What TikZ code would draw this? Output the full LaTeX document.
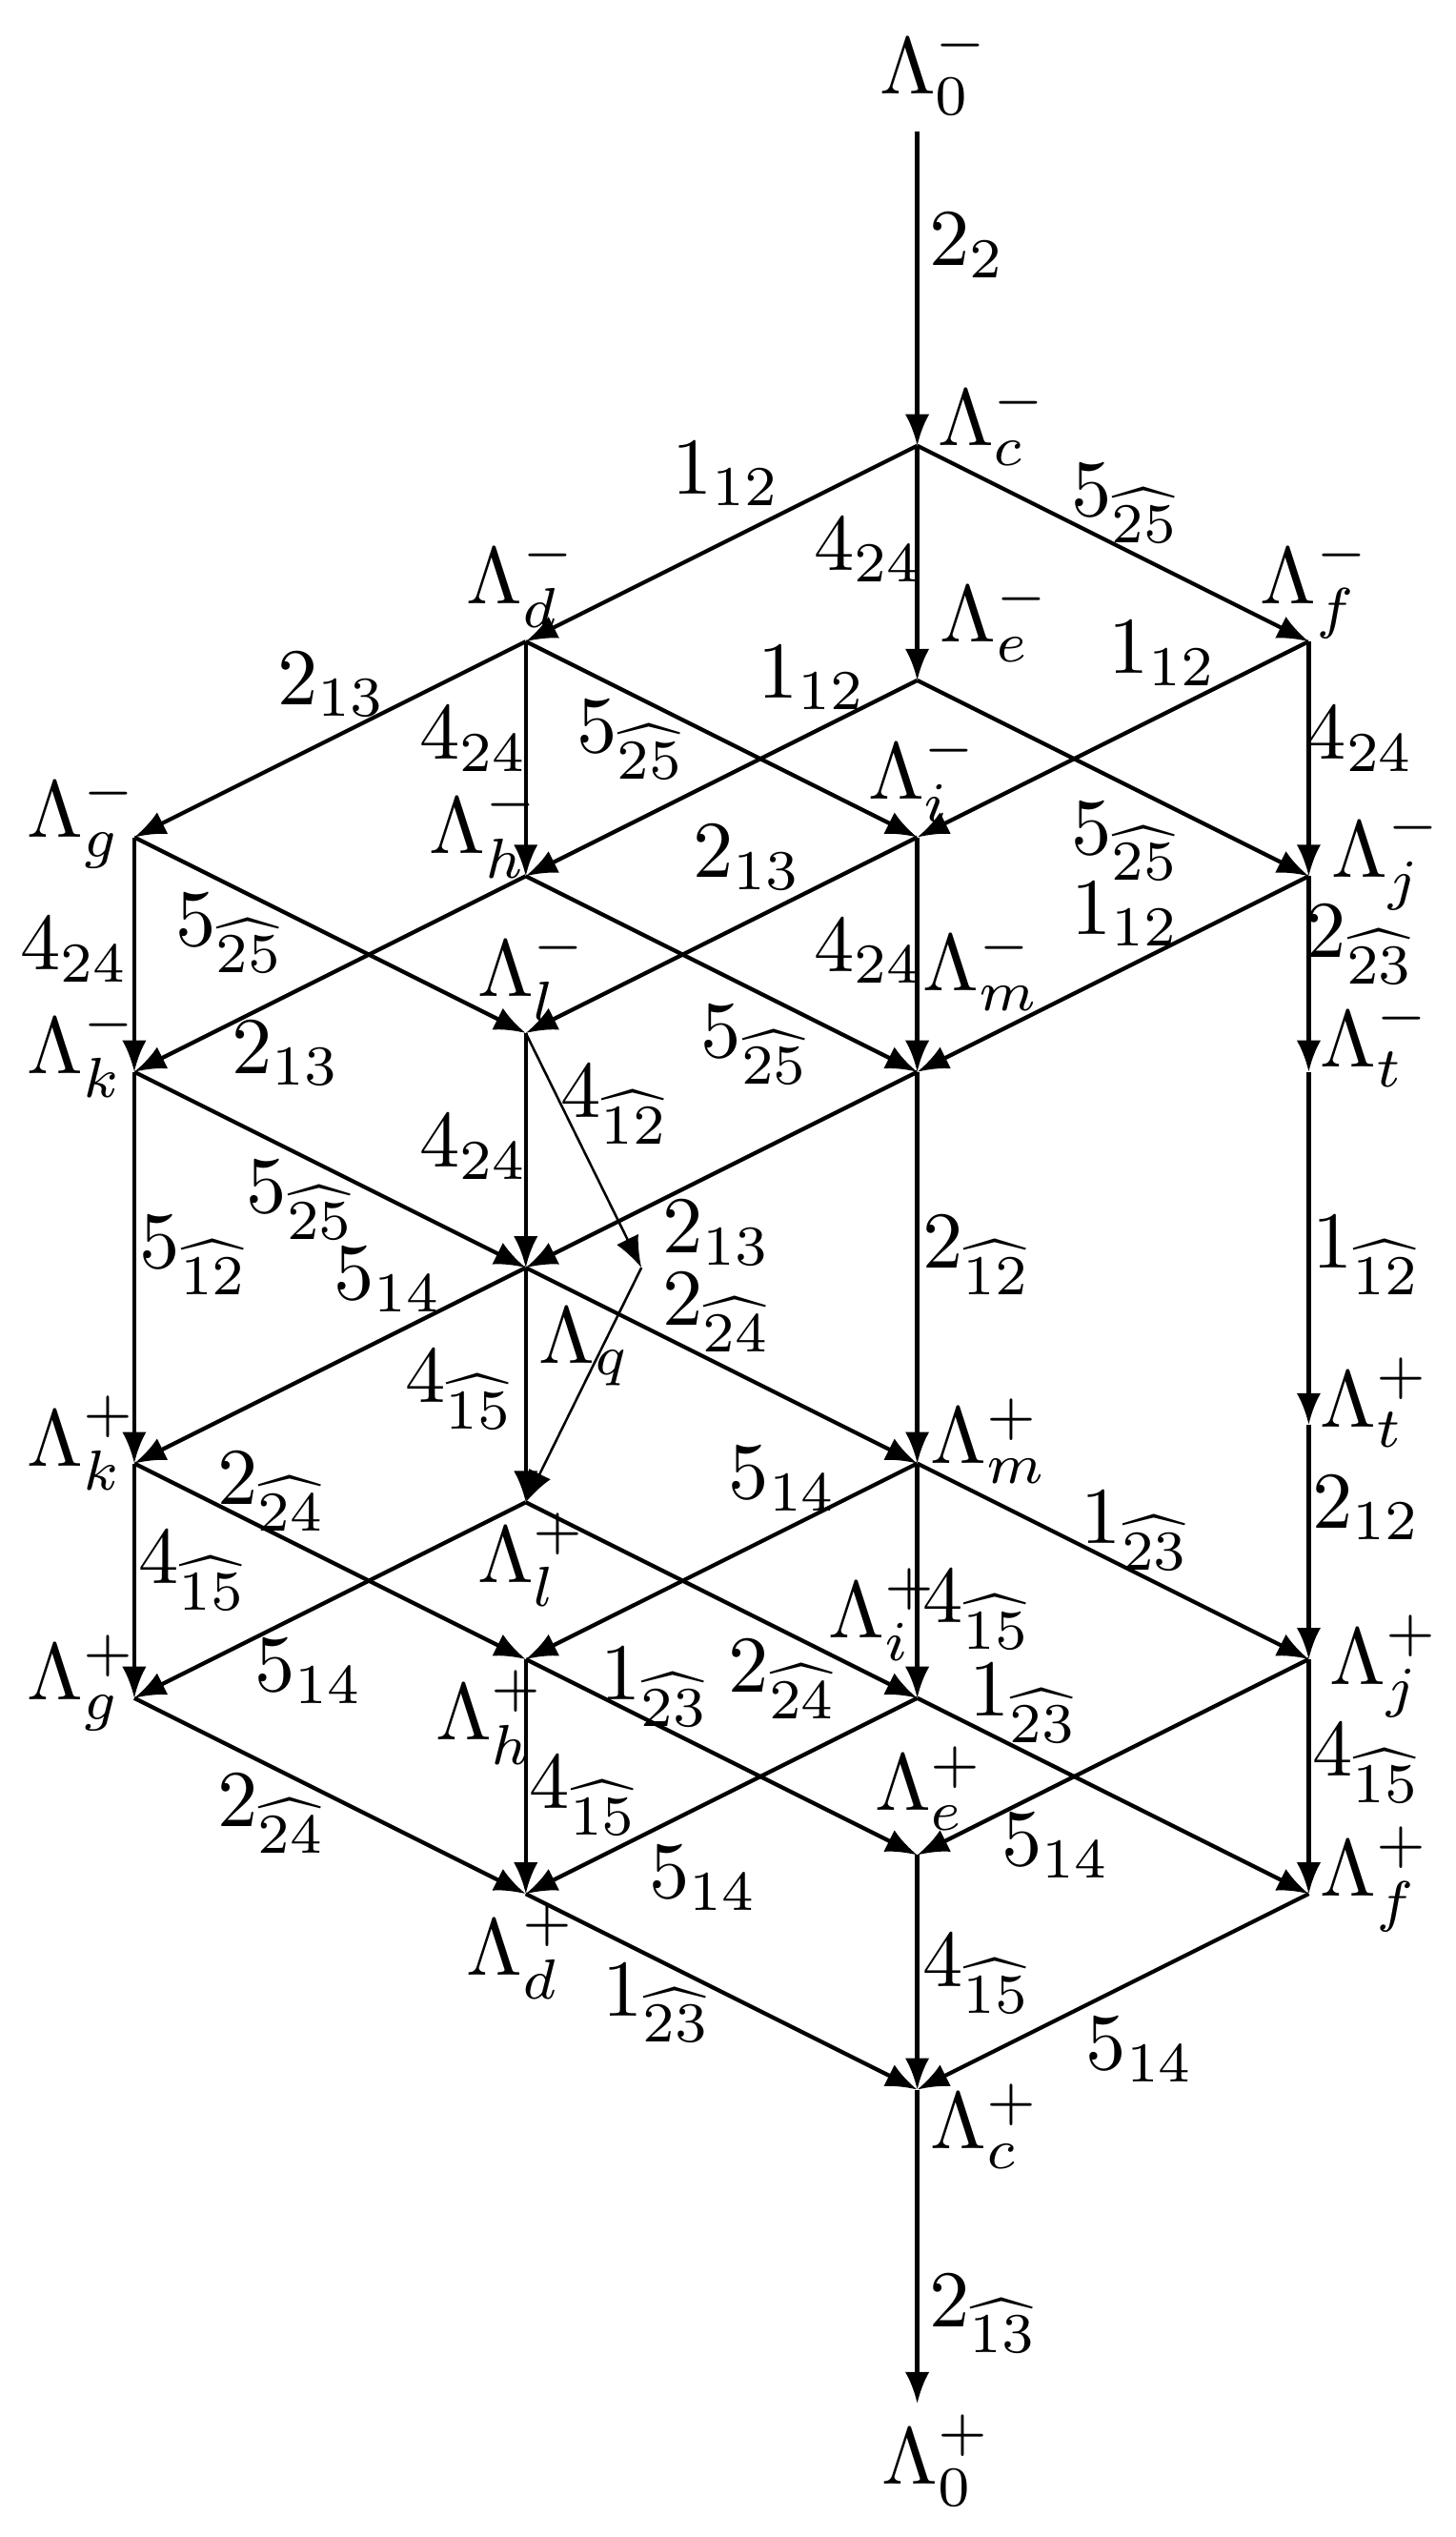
\documentclass[tikz,border=0pt]{standalone}
\usepackage{amsmath}
\usepackage{amssymb}
\usepackage{tikz}
\usetikzlibrary{arrows.meta}

\begin{document}
\begin{tikzpicture}[>={Latex[length=3.9pt,width=3.0pt]},line join=bevel,line width=0.5pt,
  vtx/.style={inner sep=0pt,outer sep=0pt,minimum size=0pt},
  vlab/.style={anchor=base west,inner sep=0pt},
  elab/.style={inner sep=0pt}]
%%
\useasboundingbox (0bp,0bp) rectangle (180bp,313.6bp);
\node (node_0m) at (113.4bp,297.3bp) [vtx] {};
  \node (node_cm) at (113.4bp,258.5bp) [vtx] {};
  \node (node_dm) at (65.0bp,234.3bp) [vtx] {};
  \node (node_fm) at (161.8bp,234.3bp) [vtx] {};
  \node (node_em) at (113.4bp,229.5bp) [vtx] {};
  \node (node_gm) at (16.6bp,210.1bp) [vtx] {};
  \node (node_im) at (113.4bp,210.1bp) [vtx] {};
  \node (node_hm) at (65.0bp,205.3bp) [vtx] {};
  \node (node_jm) at (161.8bp,205.3bp) [vtx] {};
  \node (node_lm) at (65.0bp,185.9bp) [vtx] {};
  \node (node_km) at (16.6bp,181.1bp) [vtx] {};
  \node (node_mm) at (113.4bp,181.1bp) [vtx] {};
  \node (node_tm) at (161.8bp,181.1bp) [vtx] {};
  \node (node_q) at (65.0bp,156.9bp) [vtx] {};
  \coordinate (bend_l) at (79.3bp,156.9bp);
  \node (node_tp) at (161.8bp,137.5bp) [vtx] {};
  \node (node_kp) at (16.6bp,132.7bp) [vtx] {};
  \node (node_mp) at (113.4bp,132.7bp) [vtx] {};
  \node (node_lp) at (65.0bp,127.9bp) [vtx] {};
  \node (node_hp) at (65.0bp,108.5bp) [vtx] {};
  \node (node_jp) at (161.8bp,108.5bp) [vtx] {};
  \node (node_gp) at (16.6bp,103.7bp) [vtx] {};
  \node (node_ip) at (113.4bp,103.7bp) [vtx] {};
  \node (node_ep) at (113.4bp,84.3bp) [vtx] {};
  \node (node_dp) at (65.0bp,79.5bp) [vtx] {};
  \node (node_fp) at (161.8bp,79.5bp) [vtx] {};
  \node (node_cp) at (113.4bp,55.3bp) [vtx] {};
  \node (node_0p) at (113.4bp,16.5bp) [vtx] {};
%
\node (name_0m) at (108.5bp,302.0bp) [vlab] {$\Lambda_0^-$};
  \node (name_cm) at (115.7bp,258.5bp) [vlab] {$\Lambda_c^-$};
  \node (name_dm) at (57.4bp,239.0bp) [vlab] {$\Lambda_d^-$};
  \node (name_em) at (116.0bp,234.2bp) [vlab] {$\Lambda_e^-$};
  \node (name_fm) at (155.6bp,239.0bp) [vlab] {$\Lambda_f^-$};
  \node (name_gm) at (3.1bp,210.1bp) [vlab] {$\Lambda_g^-$};
  \node (name_hm) at (52.8bp,208.1bp) [vlab] {$\Lambda_h^-$};
  \node (name_im) at (107.1bp,214.8bp) [vlab] {$\Lambda_i^-$};
  \node (name_jm) at (164.4bp,205.2bp) [vlab] {$\Lambda_j^-$};
  \node (name_km) at (3.1bp,180.9bp) [vlab] {$\Lambda_k^-$};
  \node (name_lm) at (58.8bp,190.4bp) [vlab] {$\Lambda_l^-$};
  \node (name_mm) at (113.9bp,191.1bp) [vlab] {$\Lambda_m^-$};
  \node (name_tm) at (163.0bp,181.7bp) [vlab] {$\Lambda_t^-$};
  \node (name_q) at (66.4bp,145.1bp) [vlab] {$\Lambda_q$};
  \node (name_tp) at (163.0bp,137.2bp) [vlab] {$\Lambda_t^+$};
  \node (name_kp) at (3.1bp,132.4bp) [vlab] {$\Lambda_k^+$};
  \node (name_mp) at (114.8bp,132.7bp) [vlab] {$\Lambda_m^+$};
  \node (name_lp) at (58.8bp,118.0bp) [vlab] {$\Lambda_l^+$};
  \node (name_ip) at (102.2bp,111.1bp) [vlab] {$\Lambda_i^+$};
  \node (name_jp) at (164.2bp,105.4bp) [vlab] {$\Lambda_j^+$};
  \node (name_gp) at (3.1bp,103.5bp) [vlab] {$\Lambda_g^+$};
  \node (name_hp) at (53.6bp,98.5bp) [vlab] {$\Lambda_h^+$};
  \node (name_ep) at (107.9bp,89.8bp) [vlab] {$\Lambda_e^+$};
  \node (name_fp) at (163.0bp,79.2bp) [vlab] {$\Lambda_f^+$};
  \node (name_dp) at (57.4bp,69.5bp) [vlab] {$\Lambda_d^+$};
  \node (name_cp) at (114.8bp,48.0bp) [vlab] {$\Lambda_c^+$};
  \node (name_0p) at (108.8bp,6.5bp) [vlab] {$\Lambda_0^+$};
%
\node (lab_0m_cm) at (119.6bp,283.2bp) [elab] {$2_{2}$};
  \node (lab_cm_dm) at (89.8bp,255.0bp) [elab] {$1_{12}$};
  \node (lab_cm_fm) at (139.2bp,251.4bp) [elab] {$5_{\widehat{25}}$};
  \node (lab_cm_em) at (107.4bp,245.6bp) [elab] {$4_{24}$};
  \node (lab_dm_gm) at (41.0bp,229.0bp) [elab] {$2_{13}$};
  \node (lab_dm_hm) at (58.6bp,222.2bp) [elab] {$4_{24}$};
  \node (lab_dm_im) at (78.0bp,222.2bp) [elab] {$5_{\widehat{25}}$};
  \node (lab_em_hm) at (100.4bp,229.8bp) [elab] {$1_{12}$};
  \node (lab_fm_im) at (143.8bp,232.8bp) [elab] {$1_{12}$};
  \node (lab_fm_jm) at (168.2bp,222.2bp) [elab] {$4_{24}$};
  \node (lab_im_lm) at (92.4bp,207.6bp) [elab] {$2_{13}$};
  \node (lab_em_jm) at (139.2bp,209.6bp) [elab] {$5_{\widehat{25}}$};
  \node (lab_jm_mm) at (139.2bp,200.6bp) [elab] {$1_{12}$};
  \node (lab_gm_km) at (9.2bp,196.2bp) [elab] {$4_{24}$};
  \node (lab_gm_lm) at (28.4bp,198.2bp) [elab] {$5_{\widehat{25}}$};
  \node (lab_im_mm) at (107.4bp,196.0bp) [elab] {$4_{24}$};
  \node (lab_jm_tm) at (168.2bp,196.8bp) [elab] {$2_{\widehat{23}}$};
  \node (lab_hm_km) at (35.4bp,183.4bp) [elab] {$2_{13}$};
  \node (lab_hm_mm) at (93.4bp,184.4bp) [elab] {$5_{\widehat{25}}$};
  \node (lab_lm_lp) at (76.0bp,177.0bp) [elab] {$4_{\widehat{12}}$};
  \node (lab_lm_q) at (58.6bp,171.8bp) [elab] {$4_{24}$};
  \node (lab_km_q) at (37.2bp,165.2bp) [elab] {$5_{\widehat{25}}$};
  \node (lab_mm_q) at (88.6bp,161.2bp) [elab] {$2_{13}$};
  \node (lab_km_kp) at (24.0bp,158.4bp) [elab] {$5_{\widehat{12}}$};
  \node (lab_mm_mp) at (120.8bp,158.4bp) [elab] {$2_{\widehat{12}}$};
  \node (lab_tm_tp) at (169.0bp,158.4bp) [elab] {$1_{\widehat{12}}$};
  \node (lab_q_kp) at (48.0bp,155.4bp) [elab] {$5_{14}$};
  \node (lab_q_mp) at (88.6bp,151.4bp) [elab] {$2_{\widehat{24}}$};
  \node (lab_q_lp) at (56.8bp,141.8bp) [elab] {$4_{\widehat{15}}$};
  \node (lab_kp_hp) at (33.6bp,129.2bp) [elab] {$2_{\widehat{24}}$};
  \node (lab_mp_hp) at (96.8bp,130.8bp) [elab] {$5_{14}$};
  \node (lab_tp_jp) at (169.0bp,127.2bp) [elab] {$2_{12}$};
  \node (lab_mp_jp) at (140.4bp,124.4bp) [elab] {$1_{\widehat{23}}$};
  \node (lab_kp_gp) at (23.8bp,119.4bp) [elab] {$4_{\widehat{15}}$};
  \node (lab_mp_ip) at (120.8bp,114.6bp) [elab] {$4_{\widehat{15}}$};
  \node (lab_lp_gp) at (38.2bp,107.0bp) [elab] {$5_{14}$};
  \node (lab_hp_ep) at (81.0bp,105.0bp) [elab] {$1_{\widehat{23}}$};
  \node (lab_lp_ip) at (96.8bp,106.0bp) [elab] {$2_{\widehat{24}}$};
  \node (lab_ip_fp) at (126.6bp,103.0bp) [elab] {$1_{\widehat{23}}$};
  \node (lab_jp_fp) at (169.0bp,95.6bp) [elab] {$4_{\widehat{15}}$};
  \node (lab_gp_dp) at (33.6bp,89.4bp) [elab] {$2_{\widehat{24}}$};
  \node (lab_hp_dp) at (72.2bp,91.6bp) [elab] {$4_{\widehat{15}}$};
  \node (lab_jp_ep) at (130.6bp,85.4bp) [elab] {$5_{14}$};
  \node (lab_ip_dp) at (87.0bp,81.4bp) [elab] {$5_{14}$};
  \node (lab_ep_cp) at (120.8bp,69.6bp) [elab] {$4_{\widehat{15}}$};
  \node (lab_dp_cp) at (81.2bp,66.0bp) [elab] {$1_{\widehat{23}}$};
  \node (lab_fp_cp) at (141.0bp,60.2bp) [elab] {$5_{14}$};
  \node (lab_cp_0p) at (121.6bp,27.6bp) [elab] {$2_{\widehat{13}}$};
%
\draw [black,->] (node_0m) -- (node_cm);
  \draw [black,->] (node_cm) -- (node_dm);
  \draw [black,->] (node_cm) -- (node_em);
  \draw [black,->] (node_cm) -- (node_fm);
  \draw [black,->] (node_dm) -- (node_gm);
  \draw [black,->] (node_dm) -- (node_hm);
  \draw [black,->] (node_dm) -- (node_im);
  \draw [black,->] (node_em) -- (node_hm);
  \draw [black,->] (node_em) -- (node_jm);
  \draw [black,->] (node_fm) -- (node_im);
  \draw [black,->] (node_fm) -- (node_jm);
  \draw [black,->] (node_gm) -- (node_km);
  \draw [black,->] (node_gm) -- (node_lm);
  \draw [black,->] (node_hm) -- (node_km);
  \draw [black,->] (node_hm) -- (node_mm);
  \draw [black,->] (node_im) -- (node_lm);
  \draw [black,->] (node_im) -- (node_mm);
  \draw [black,->] (node_jm) -- (node_mm);
  \draw [black,->] (node_jm) -- (node_tm);
  \draw [black,->] (node_km) -- (node_q);
  \draw [black,->] (node_lm) -- (node_q);
  \draw [black,->] (node_mm) -- (node_q);
  \draw [black,->] (node_km) -- (node_kp);
  \draw [black,->] (node_mm) -- (node_mp);
  \draw [black,->] (node_tm) -- (node_tp);
  \draw [black,->,line width=0.3pt] (node_lm) -- (bend_l);
  \draw [black,->,line width=0.3pt] (bend_l) -- (node_lp);
  \draw [black,->] (node_q) -- (node_kp);
  \draw [black,->] (node_q) -- (node_lp);
  \draw [black,->] (node_q) -- (node_mp);
  \draw [black,->] (node_kp) -- (node_gp);
  \draw [black,->] (node_kp) -- (node_hp);
  \draw [black,->] (node_mp) -- (node_hp);
  \draw [black,->] (node_mp) -- (node_ip);
  \draw [black,->] (node_mp) -- (node_jp);
  \draw [black,->] (node_lp) -- (node_gp);
  \draw [black,->] (node_lp) -- (node_ip);
  \draw [black,->] (node_tp) -- (node_jp);
  \draw [black,->] (node_gp) -- (node_dp);
  \draw [black,->] (node_hp) -- (node_dp);
  \draw [black,->] (node_hp) -- (node_ep);
  \draw [black,->] (node_ip) -- (node_dp);
  \draw [black,->] (node_ip) -- (node_fp);
  \draw [black,->] (node_jp) -- (node_ep);
  \draw [black,->] (node_jp) -- (node_fp);
  \draw [black,->] (node_dp) -- (node_cp);
  \draw [black,->] (node_ep) -- (node_cp);
  \draw [black,->] (node_fp) -- (node_cp);
  \draw [black,->] (node_cp) -- (node_0p);
%
\end{tikzpicture}
\end{document}
